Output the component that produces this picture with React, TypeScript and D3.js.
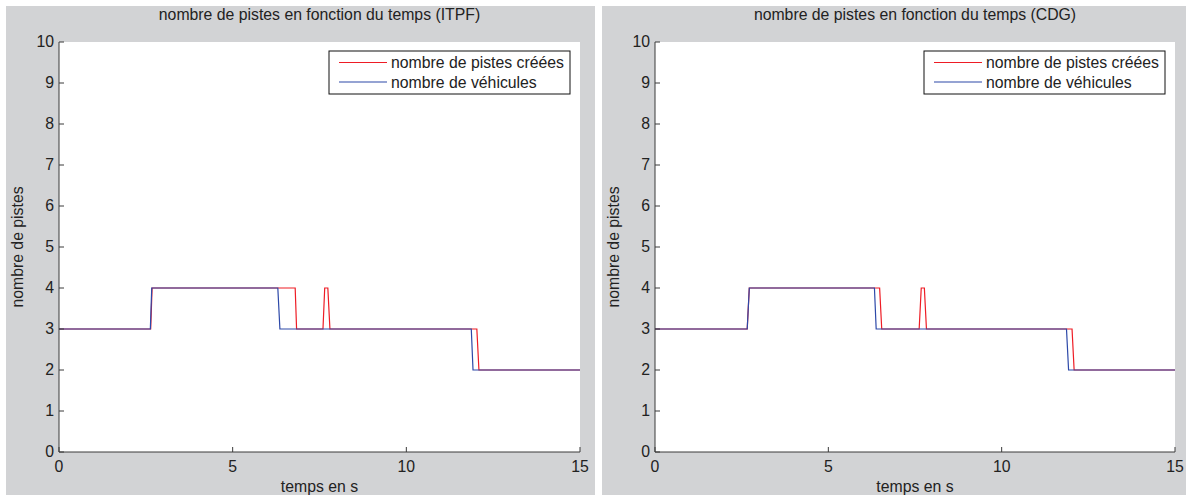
import React, { useEffect, useRef } from 'react';
import * as d3 from 'd3';

// step traces: [time (s), number of tracks]
const itpfCreated: [number, number][] = [
  [0, 3], [2.64, 3], [2.68, 4], [6.8, 4], [6.84, 3], [7.6, 3], [7.65, 4],
  [7.74, 4], [7.8, 3], [12.03, 3], [12.09, 2], [15, 2],
];
const itpfVehicles: [number, number][] = [
  [0, 3], [2.63, 3], [2.67, 4], [6.3, 4], [6.36, 3], [11.87, 3], [11.92, 2], [15, 2],
];
const cdgCreated: [number, number][] = [
  [0, 3], [2.66, 3], [2.72, 4], [6.48, 4], [6.54, 3], [7.62, 3], [7.68, 4],
  [7.77, 4], [7.83, 3], [12.03, 3], [12.09, 2], [15, 2],
];
const cdgVehicles: [number, number][] = [
  [0, 3], [2.66, 3], [2.72, 4], [6.33, 4], [6.38, 3], [11.87, 3], [11.93, 2], [15, 2],
];

const xTicks = [0, 5, 10, 15];
const yTicks = [0, 1, 2, 3, 4, 5, 6, 7, 8, 9, 10];
const legendLabels = ['nombre de pistes créées', 'nombre de véhicules'];
const titles = ['nombre de pistes en fonction du temps (ITPF)', 'nombre de pistes en fonction du temps (CDG)'];

const RED = '#ee1c25';
const BLUE = '#2c48a8';
const FONT = '"Liberation Sans", Arial, Helvetica, sans-serif';
const FS = 15.8;

const W = 1186;
const H = 495;

const App: React.FC = () => {
  const svgRef = useRef<SVGSVGElement>(null);

  useEffect(() => {
    if (!svgRef.current) return;
    const svg = d3.select(svgRef.current);
    svg.selectAll('*').remove();

    const panels = [
      { bg: [6, 595], plot: [59, 580], created: itpfCreated, vehicles: itpfVehicles, title: titles[0] },
      { bg: [602, 1186], plot: [655, 1175], created: cdgCreated, vehicles: cdgVehicles, title: titles[1] },
    ];
    const top = 42;
    const bottom = 452;

    panels.forEach(p => {
      const g = svg.append('g');
      g.append('rect')
        .attr('x', p.bg[0]).attr('y', 6)
        .attr('width', p.bg[1] - p.bg[0]).attr('height', H - 6)
        .attr('fill', '#d2d3d5');

      const x = d3.scaleLinear().domain([0, 15]).range([p.plot[0], p.plot[1]]);
      const y = d3.scaleLinear().domain([0, 10]).range([bottom, top]);

      g.append('rect')
        .attr('x', x(0)).attr('y', y(10))
        .attr('width', x(15) - x(0)).attr('height', y(0) - y(10))
        .attr('fill', '#fff');

      const line = d3.line<[number, number]>().x(d => x(d[0])).y(d => y(d[1]));
      g.append('path').datum(p.created)
        .attr('fill', 'none').attr('stroke', RED).attr('stroke-width', 1.2).attr('d', line);
      g.append('path').datum(p.vehicles)
        .attr('fill', 'none').attr('stroke', BLUE).attr('stroke-width', 1.2).attr('d', line);

      // axes (left + bottom, ticks pointing inward)
      const axisColor = '#3a3a3a';
      g.append('line')
        .attr('x1', x(0)).attr('x2', x(0)).attr('y1', y(0)).attr('y2', y(10))
        .attr('stroke', axisColor).attr('stroke-width', 1);
      g.append('line')
        .attr('x1', x(0)).attr('x2', x(15)).attr('y1', y(0)).attr('y2', y(0))
        .attr('stroke', axisColor).attr('stroke-width', 1);

      yTicks.forEach(t => {
        g.append('line')
          .attr('x1', x(0)).attr('x2', x(0) + 5).attr('y1', y(t)).attr('y2', y(t))
          .attr('stroke', axisColor);
        g.append('text')
          .attr('x', x(0) - 5).attr('y', y(t) + 5)
          .attr('text-anchor', 'end').attr('font-family', FONT).attr('font-size', FS)
          .attr('fill', '#222').text(t);
      });
      xTicks.forEach(t => {
        g.append('line')
          .attr('x1', x(t)).attr('x2', x(t)).attr('y1', y(0)).attr('y2', y(0) - 5)
          .attr('stroke', axisColor);
        g.append('text')
          .attr('x', x(t)).attr('y', y(0) + 20)
          .attr('text-anchor', 'middle').attr('font-family', FONT).attr('font-size', FS)
          .attr('fill', '#222').text(t);
      });

      const cx = (x(0) + x(15)) / 2;
      g.append('text')
        .attr('x', cx).attr('y', 20)
        .attr('text-anchor', 'middle').attr('font-family', FONT).attr('font-size', FS)
        .attr('fill', '#222').text(p.title);
      g.append('text')
        .attr('x', cx).attr('y', 492)
        .attr('text-anchor', 'middle').attr('font-family', FONT).attr('font-size', FS)
        .attr('fill', '#222').text('temps en s');
      g.append('text')
        .attr('transform', `translate(${x(0) - 36},${(y(0) + y(10)) / 2}) rotate(-90)`)
        .attr('text-anchor', 'middle').attr('font-family', FONT).attr('font-size', FS)
        .attr('fill', '#222').text('nombre de pistes');

      // legend
      const lx = x(15) - 251;
      const ly = 51;
      g.append('rect')
        .attr('x', lx).attr('y', ly).attr('width', 241).attr('height', 43)
        .attr('fill', '#fff').attr('stroke', '#111').attr('stroke-width', 1);
      [RED, BLUE].forEach((c, i) => {
        const yy = ly + 11.5 + i * 19.5;
        g.append('line')
          .attr('x1', lx + 10).attr('x2', lx + 58).attr('y1', yy).attr('y2', yy)
          .attr('stroke', c).attr('stroke-width', 1.2);
        g.append('text')
          .attr('x', lx + 62).attr('y', yy + 5.5)
          .attr('font-family', FONT).attr('font-size', FS)
          .attr('fill', '#222').text(legendLabels[i]);
      });
    });
  }, []);

  return (
    <svg
      ref={svgRef}
      width={W}
      height={H}
      viewBox={`0 0 ${W} ${H}`}
      style={{ position: 'absolute', left: 0, top: 0, display: 'block', background: '#fff' }}
    />
  );
};

export default App;
